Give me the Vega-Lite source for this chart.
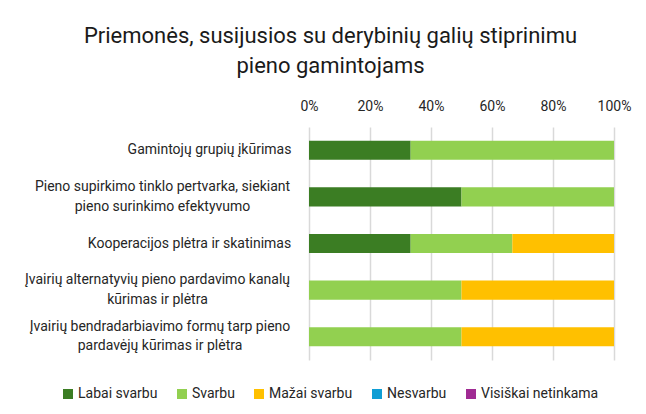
{
  "$schema": "https://vega.github.io/schema/vega-lite/v6.json",
  "width": 305,
  "height": 233,
  "autosize": {"type": "none"},
  "padding": {"left": 309, "top": 127, "right": 32, "bottom": 54},
  "background": "white",
  "title": {
    "text": ["Priemonės, susijusios su derybinių galių stiprinimu", "pieno gamintojams"],
    "frame": "group",
    "anchor": "middle",
    "dx": -131,
    "offset": 21,
    "font": "Roboto",
    "fontSize": 22,
    "fontWeight": "normal",
    "color": "#1a1a1a",
    "lineHeight": 30
  },
  "data": {
    "values": [
      {"cat": "Gamintojų grupių įkūrimas", "ord": 1, "level": "Labai svarbu", "lo": 1, "v": 33.33},
      {"cat": "Gamintojų grupių įkūrimas", "ord": 1, "level": "Svarbu", "lo": 2, "v": 66.67},
      {"cat": "Pieno supirkimo tinklo pertvarka, siekiant|pieno surinkimo efektyvumo", "ord": 2, "level": "Labai svarbu", "lo": 1, "v": 50},
      {"cat": "Pieno supirkimo tinklo pertvarka, siekiant|pieno surinkimo efektyvumo", "ord": 2, "level": "Svarbu", "lo": 2, "v": 50},
      {"cat": "Kooperacijos plėtra ir skatinimas", "ord": 3, "level": "Labai svarbu", "lo": 1, "v": 33.33},
      {"cat": "Kooperacijos plėtra ir skatinimas", "ord": 3, "level": "Svarbu", "lo": 2, "v": 33.33},
      {"cat": "Kooperacijos plėtra ir skatinimas", "ord": 3, "level": "Mažai svarbu", "lo": 3, "v": 33.34},
      {"cat": "Įvairių alternatyvių pieno pardavimo kanalų|kūrimas ir plėtra", "ord": 4, "level": "Svarbu", "lo": 2, "v": 50},
      {"cat": "Įvairių alternatyvių pieno pardavimo kanalų|kūrimas ir plėtra", "ord": 4, "level": "Mažai svarbu", "lo": 3, "v": 50},
      {"cat": "Įvairių bendradarbiavimo formų tarp pieno|pardavėjų kūrimas ir plėtra", "ord": 5, "level": "Svarbu", "lo": 2, "v": 50},
      {"cat": "Įvairių bendradarbiavimo formų tarp pieno|pardavėjų kūrimas ir plėtra", "ord": 5, "level": "Mažai svarbu", "lo": 3, "v": 50},
      {"cat": "Įvairių bendradarbiavimo formų tarp pieno|pardavėjų kūrimas ir plėtra", "ord": 5, "level": "Nesvarbu", "lo": 4, "v": 0},
      {"cat": "Įvairių bendradarbiavimo formų tarp pieno|pardavėjų kūrimas ir plėtra", "ord": 5, "level": "Visiškai netinkama", "lo": 5, "v": 0}
    ]
  },
  "mark": {"type": "bar"},
  "encoding": {
    "y": {
      "field": "cat",
      "type": "nominal",
      "sort": {"field": "ord", "op": "min"},
      "scale": {"paddingInner": 0.59, "paddingOuter": 0.295},
      "axis": {
        "title": null,
        "domain": false,
        "ticks": false,
        "labelExpr": "split(datum.label, '|')",
        "labelFont": "Roboto",
        "labelFontSize": 14,
        "labelColor": "#262626",
        "labelLineHeight": 19.5,
        "labelAlign": "center",
        "labelBaseline": "middle",
        "labelPadding": {
          "condition": [
            {"test": "indexof(datum.value, 'Gamintoj') === 0", "value": 100},
            {"test": "indexof(datum.value, 'Pieno') === 0", "value": 147},
            {"test": "indexof(datum.value, 'Kooperac') === 0", "value": 120},
            {"test": "indexof(datum.value, 'alternatyv') >= 0", "value": 152}
          ],
          "value": 149.5
        },
        "labelOffset": {
          "condition": {"test": "indexof(datum.value, '|') >= 0", "value": -9.75},
          "value": 0
        },
        "labelLimit": 320
      }
    },
    "x": {
      "field": "v",
      "type": "quantitative",
      "stack": "zero",
      "scale": {"domain": [0, 100], "nice": false},
      "axis": {
        "orient": "top",
        "title": null,
        "values": [0, 20, 40, 60, 80, 100],
        "labelExpr": "datum.value + '%'",
        "domain": false,
        "ticks": false,
        "grid": true,
        "gridColor": "#d9d9d9",
        "gridWidth": 1.5,
        "labelFont": "Roboto",
        "labelFontSize": 14,
        "labelColor": "#262626",
        "labelPadding": 14,
        "labelFlush": false
      }
    },
    "color": {
      "field": "level",
      "type": "nominal",
      "scale": {
        "domain": ["Labai svarbu", "Svarbu", "Mažai svarbu", "Nesvarbu", "Visiškai netinkama"],
        "range": ["#3b7d23", "#92d050", "#ffc000", "#0f9ed5", "#a02b93"]
      },
      "legend": {
        "title": null,
        "orient": "none",
        "direction": "horizontal",
        "legendX": -248,
        "legendY": 260,
        "symbolType": "square",
        "symbolSize": 100,
        "symbolStrokeWidth": 0,
        "labelFont": "Roboto",
        "labelFontSize": 14,
        "labelColor": "#262626",
        "columnPadding": 17,
        "labelOffset": 3
      }
    },
    "order": {"field": "lo"}
  },
  "config": {"view": {"stroke": null}}
}
